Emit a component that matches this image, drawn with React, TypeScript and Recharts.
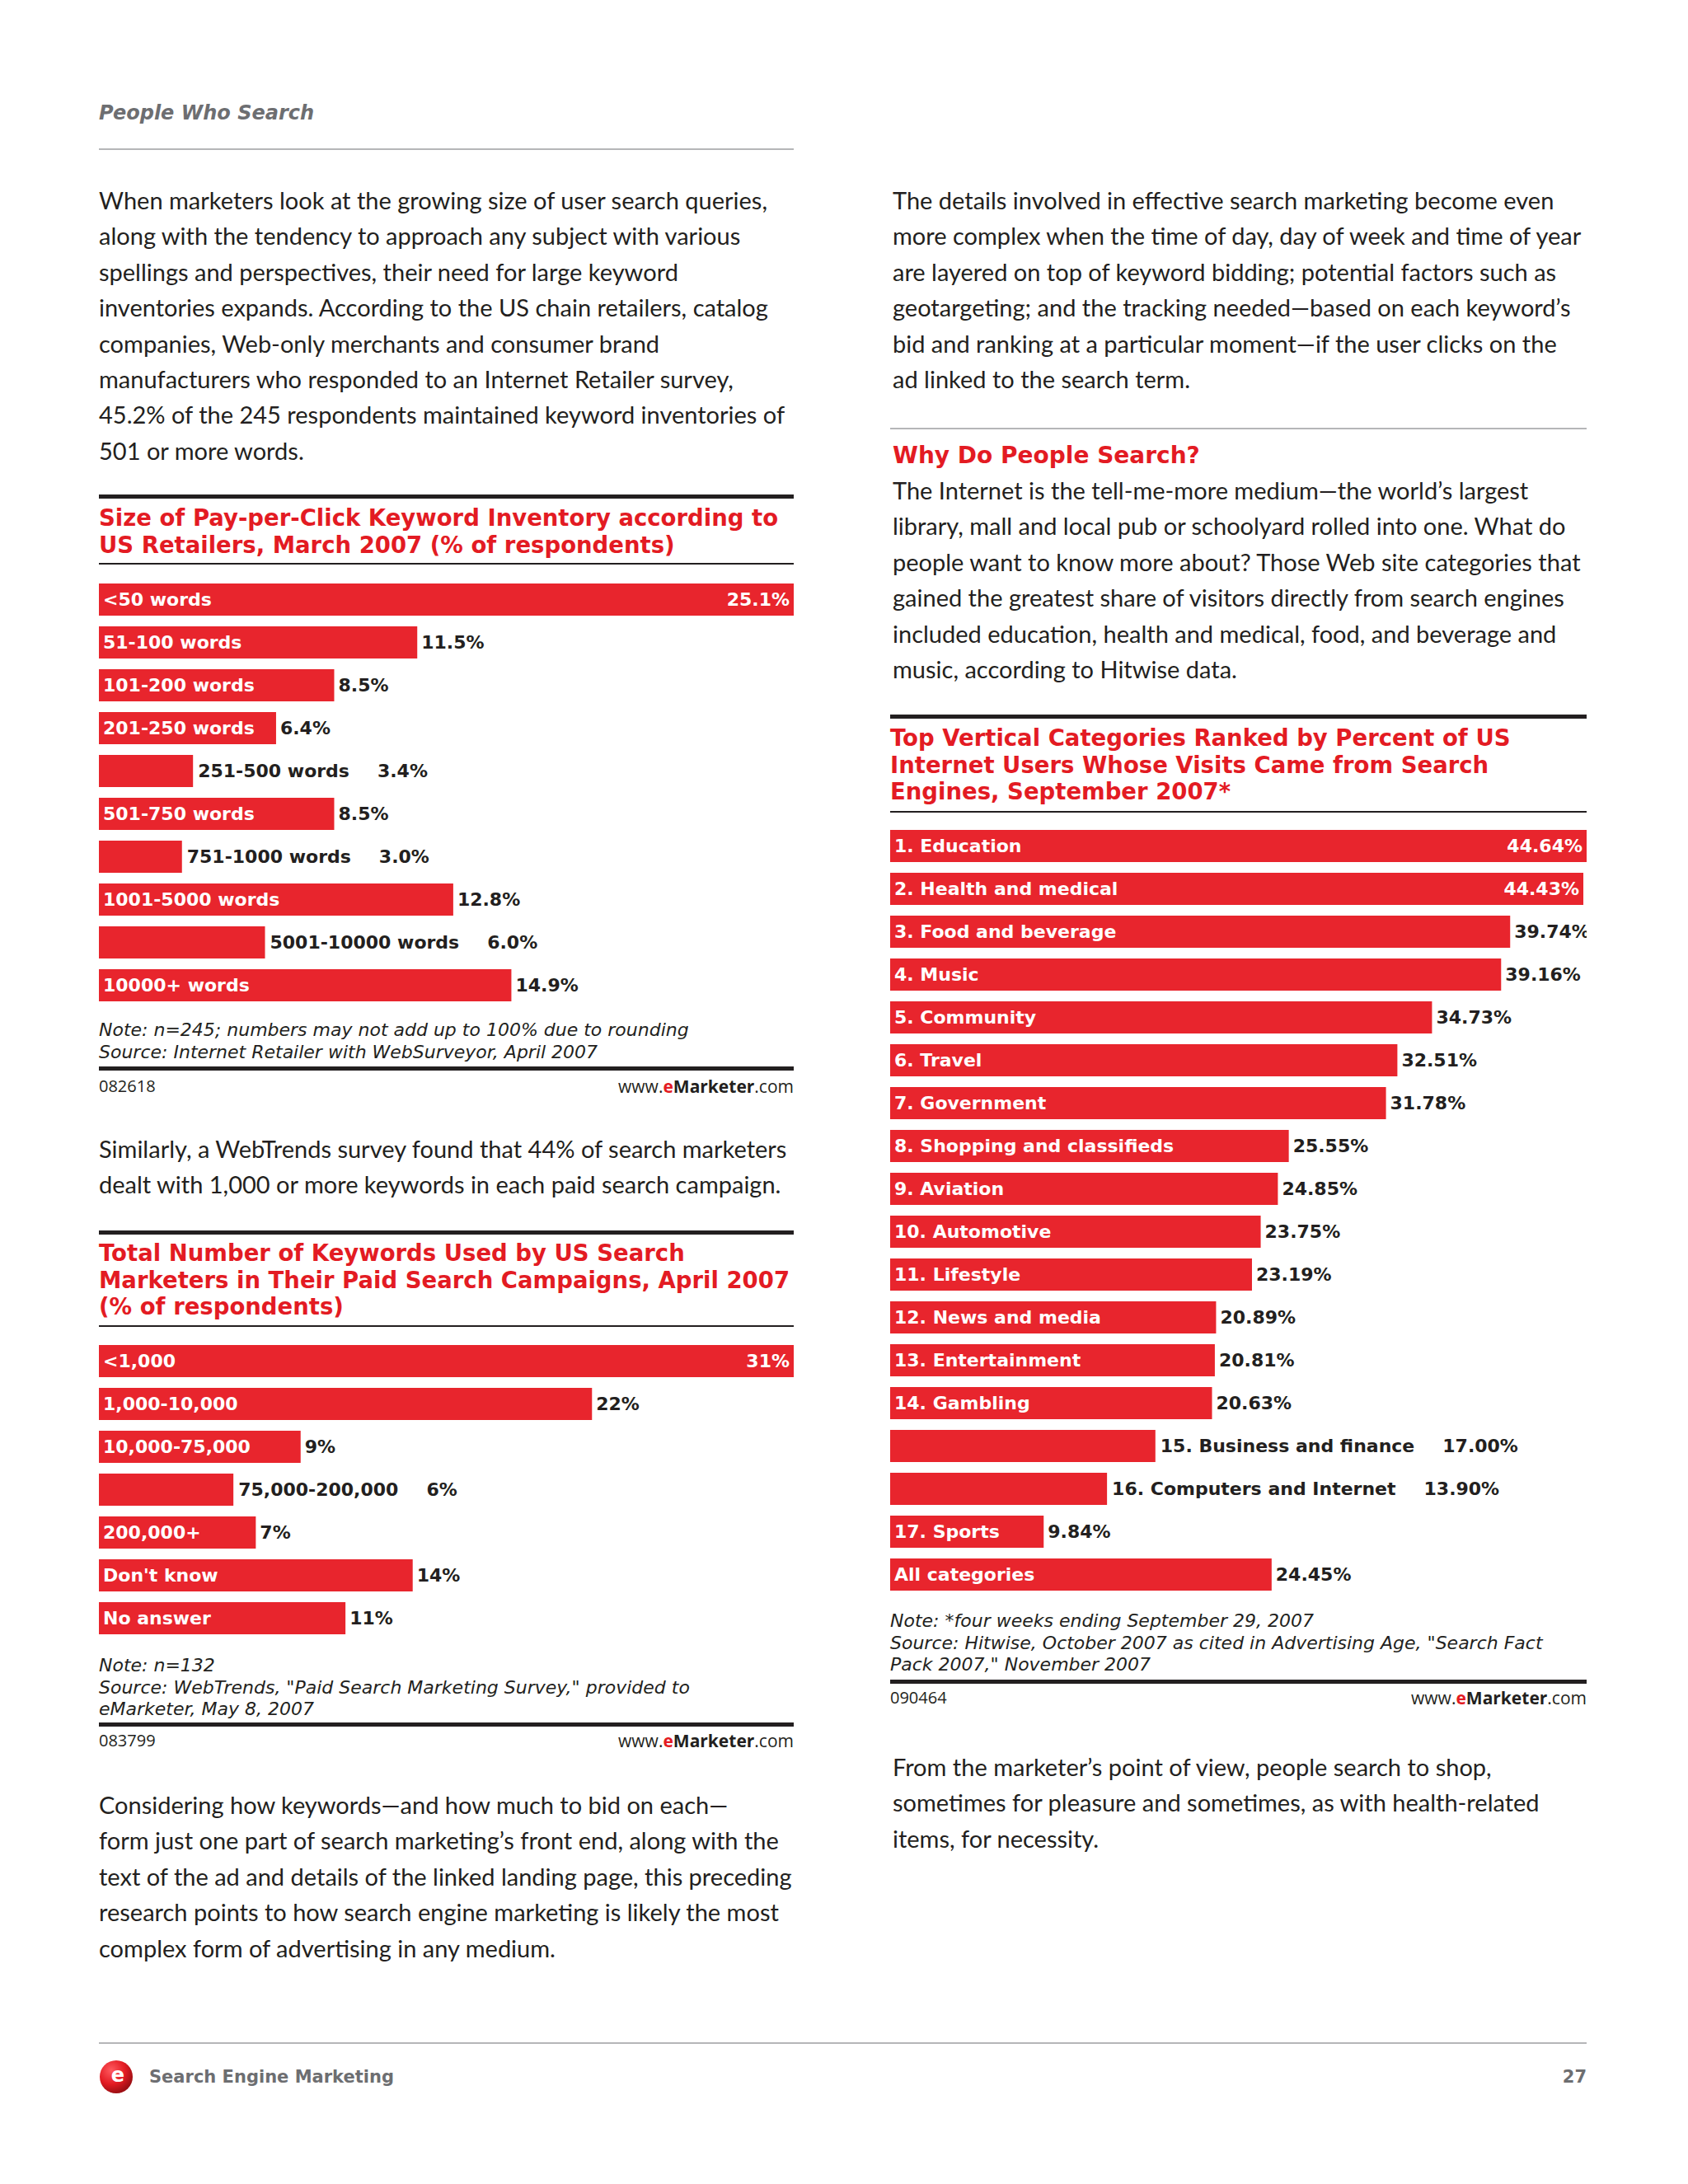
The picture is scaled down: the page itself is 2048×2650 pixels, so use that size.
import React from "react";
import { BarChart, Bar, XAxis, YAxis } from "recharts";

// chart 1: keyword inventory size
const inventoryLabels = ["<50 words", "51-100 words", "101-200 words", "201-250 words", "251-500 words", "501-750 words", "751-1000 words", "1001-5000 words", "5001-10000 words", "10000+ words"];
const inventoryValues = [25.1, 11.5, 8.5, 6.4, 3.4, 8.5, 3.0, 12.8, 6.0, 14.9];

// chart 2: keywords used in paid search campaigns
const keywordLabels = ["<1,000", "1,000-10,000", "10,000-75,000", "75,000-200,000", "200,000+", "Don't know", "No answer"];
const keywordValues = [31, 22, 9, 6, 7, 14, 11];

// chart 3: vertical categories
const categoryLabels = ["1. Education", "2. Health and medical", "3. Food and beverage", "4. Music", "5. Community", "6. Travel", "7. Government", "8. Shopping and classifieds", "9. Aviation", "10. Automotive", "11. Lifestyle", "12. News and media", "13. Entertainment", "14. Gambling", "15. Business and finance", "16. Computers and Internet", "17. Sports", "All categories"];
const categoryValues = [44.64, 44.43, 39.74, 39.16, 34.73, 32.51, 31.78, 25.55, 24.85, 23.75, 23.19, 20.89, 20.81, 20.63, 17.0, 13.9, 9.84, 24.45];

const RED = "#e8252d";
const TITLE_RED = "#e31b23";
const INK = "#231f20";
const GRAY = "#6d6e71";
const ROW = 52;
const BAR_H = 39;
const BOLD = "'DejaVu Sans', Verdana, sans-serif";
const LABEL_SIZE = 22;
const LABEL_FONT = `bold ${LABEL_SIZE}px 'DejaVu Sans', sans-serif`;
const BODY = "Lato, 'Open Sans', sans-serif";
const NOTE = "'DejaVu Sans', sans-serif";
const SMALL = "'Open Sans', Lato, sans-serif";

let ctx: CanvasRenderingContext2D | null = null;
function measure(text: string) {
  if (!ctx) ctx = document.createElement("canvas").getContext("2d");
  if (!ctx) return text.length * 15;
  ctx.font = LABEL_FONT;
  return ctx.measureText(text).width;
}

function BarShape(props: any) {
  const { x, y, width, height, payload, chartWidth, decimals } = props;
  const cy = y + height / 2;
  const label = payload.name;
  const val = payload.value.toFixed(decimals) + "%";
  const lw = measure(label);
  const vw = measure(val);
  const inside = lw + 28 <= width;
  const common = { fontFamily: BOLD, fontWeight: 700, fontSize: LABEL_SIZE, dominantBaseline: "central" as const };
  let labelEl, valueEl;
  if (inside) {
    labelEl = <text x={x + 5} y={cy} fill="#fff" {...common}>{label}</text>;
    if (x + width + 6 + vw > chartWidth + 10) {
      valueEl = <text x={x + width - 5} y={cy} fill="#fff" textAnchor="end" {...common}>{val}</text>;
    } else {
      valueEl = <text x={x + width + 5} y={cy} fill={INK} {...common}>{val}</text>;
    }
  } else {
    labelEl = <text x={x + width + 6} y={cy} fill={INK} {...common}>{label}</text>;
    valueEl = <text x={x + width + 6 + lw + 34} y={cy} fill={INK} {...common}>{val}</text>;
  }
  return (
    <g>
      <rect x={x} y={y} width={width} height={height} fill={RED} />
      {labelEl}
      {valueEl}
    </g>
  );
}

function HBars({ labels, values, decimals, left, top, width }: any) {
  const data = labels.map((name: string, i: number) => ({ name, value: values[i] }));
  const max = Math.max(...values);
  return (
    <div style={{ position: "absolute", left, top }}>
      <BarChart width={width} height={labels.length * ROW} data={data} layout="vertical" margin={{ top: 0, right: 0, bottom: 0, left: 0 }}>
        <XAxis type="number" domain={[0, max]} allowDataOverflow hide />
        <YAxis type="category" dataKey="name" hide width={0} />
        <Bar dataKey="value" fill={RED} barSize={BAR_H} isAnimationActive={false} shape={(p: any) => <BarShape {...p} chartWidth={width} decimals={decimals} />} />
      </BarChart>
    </div>
  );
}

function Line({ x, y, size = 28, lh = 40, children, style }: any) {
  return (
    <div style={{ position: "absolute", left: x, top: y - lh / 2, fontSize: size, lineHeight: lh + "px", whiteSpace: "nowrap", ...style }}>
      {children}
    </div>
  );
}

function Para({ x, y, step = 43.4, lines }: any) {
  return (
    <>
      {lines.map((t: string, i: number) => (
        <Line key={i} x={x} y={y + i * step} size={29} style={{ fontFamily: BODY, fontWeight: 400, color: INK }}>{t}</Line>
      ))}
    </>
  );
}

function Rule({ x, y, w, h, color }: any) {
  return <div style={{ position: "absolute", left: x, top: y - h / 2, width: w, height: h, background: color }} />;
}

function Title({ x, y, lines }: any) {
  return (
    <>
      {lines.map((t: string, i: number) => (
        <Line key={i} x={x} y={y + 1 + i * 32.5} size={27.5} lh={32} style={{ fontFamily: BOLD, fontWeight: 700, color: TITLE_RED }}>{t}</Line>
      ))}
    </>
  );
}

function Notes({ x, y, lines }: any) {
  return (
    <>
      {lines.map((t: string, i: number) => (
        <Line key={i} x={x} y={y + i * 26.5} size={22} lh={26} style={{ fontFamily: NOTE, fontStyle: "italic", color: INK }}>{t}</Line>
      ))}
    </>
  );
}

function Credit({ x, y, w, code }: any) {
  return (
    <>
      <Line x={x} y={y} size={20} lh={24} style={{ fontFamily: SMALL, color: INK }}>{code}</Line>
      <div style={{ position: "absolute", left: x + w - 300, top: y - 12, width: 300, textAlign: "right", fontSize: 21, lineHeight: "24px", fontFamily: SMALL, color: INK }}>
        www.<b style={{ color: TITLE_RED }}>e</b><b>Marketer</b>.com
      </div>
    </>
  );
}

export default function App() {
  const L = 120;
  const R = 1080;
  return (
    <div style={{ position: "absolute", left: 0, top: 0, width: 2048, height: 2650, background: "#fff", overflow: "hidden" }}>
      <style>{`.recharts-surface{overflow:visible}`}</style>
      <Line x={L} y={137} size={24} lh={34} style={{ fontFamily: BOLD, fontWeight: 700, fontStyle: "italic", color: GRAY }}>People Who Search</Line>
      <Rule x={L} y={181} w={843} h={2} color="#b5b6b8" />
      <Para x={L} y={243} lines={[
        "When marketers look at the growing size of user search queries,",
        "along with the tendency to approach any subject with various",
        "spellings and perspectives, their need for large keyword",
        "inventories expands. According to the US chain retailers, catalog",
        "companies, Web-only merchants and consumer brand",
        "manufacturers who responded to an Internet Retailer survey,",
        "45.2% of the 245 respondents maintained keyword inventories of",
        "501 or more words.",
      ]} />

      {/* chart 1 */}
      <Rule x={L} y={602} w={843} h={5} color={INK} />
      <Title x={L} y={627} lines={["Size of Pay-per-Click Keyword Inventory according to", "US Retailers, March 2007 (% of respondents)"]} />
      <Rule x={L} y={684} w={843} h={2} color={INK} />
      <HBars labels={inventoryLabels} values={inventoryValues} decimals={1} left={L} top={727 - ROW / 2} width={843} />
      <Notes x={L} y={1250} lines={["Note: n=245; numbers may not add up to 100% due to rounding", "Source: Internet Retailer with WebSurveyor, April 2007"]} />
      <Rule x={L} y={1296} w={843} h={5} color={INK} />
      <Credit x={L} y={1318} w={843} code="082618" />

      <Para x={L} y={1394} lines={[
        "Similarly, a WebTrends survey found that 44% of search marketers",
        "dealt with 1,000 or more keywords in each paid search campaign.",
      ]} />

      {/* chart 2 */}
      <Rule x={L} y={1495} w={843} h={5} color={INK} />
      <Title x={L} y={1519} lines={["Total Number of Keywords Used by US Search", "Marketers in Their Paid Search Campaigns, April 2007", "(% of respondents)"]} />
      <Rule x={L} y={1609} w={843} h={2} color={INK} />
      <HBars labels={keywordLabels} values={keywordValues} decimals={0} left={L} top={1651 - ROW / 2} width={843} />
      <Notes x={L} y={2021} lines={["Note: n=132", "Source: WebTrends, \"Paid Search Marketing Survey,\" provided to", "eMarketer, May 8, 2007"]} />
      <Rule x={L} y={2092} w={843} h={5} color={INK} />
      <Credit x={L} y={2112} w={843} code="083799" />

      <Para x={L} y={2190} lines={[
        "Considering how keywords\u2014and how much to bid on each\u2014",
        "form just one part of search marketing\u2019s front end, along with the",
        "text of the ad and details of the linked landing page, this preceding",
        "research points to how search engine marketing is likely the most",
        "complex form of advertising in any medium.",
      ]} />

      {/* right column */}
      <Para x={R + 3} y={243} lines={[
        "The details involved in effective search marketing become even",
        "more complex when the time of day, day of week and time of year",
        "are layered on top of keyword bidding; potential factors such as",
        "geotargeting; and the tracking needed\u2014based on each keyword\u2019s",
        "bid and ranking at a particular moment\u2014if the user clicks on the",
        "ad linked to the search term.",
      ]} />
      <Rule x={R} y={520} w={845} h={2} color="#b5b6b8" />
      <Line x={R + 3} y={553} size={28} lh={36} style={{ fontFamily: BOLD, fontWeight: 700, color: TITLE_RED }}>Why Do People Search?</Line>
      <Para x={R + 3} y={595} lines={[
        "The Internet is the tell-me-more medium\u2014the world\u2019s largest",
        "library, mall and local pub or schoolyard rolled into one. What do",
        "people want to know more about? Those Web site categories that",
        "gained the greatest share of visitors directly from search engines",
        "included education, health and medical, food, and beverage and",
        "music, according to Hitwise data.",
      ]} />

      {/* chart 3 */}
      <Rule x={R} y={869} w={845} h={5} color={INK} />
      <Title x={R} y={894} lines={["Top Vertical Categories Ranked by Percent of US", "Internet Users Whose Visits Came from Search", "Engines, September 2007*"]} />
      <Rule x={R} y={985} w={845} h={2} color={INK} />
      <HBars labels={categoryLabels} values={categoryValues} decimals={2} left={R} top={1026 - ROW / 2} width={845} />
      <Notes x={R} y={1967} lines={["Note: *four weeks ending September 29, 2007", "Source: Hitwise, October 2007 as cited in Advertising Age, \"Search Fact", "Pack 2007,\" November 2007"]} />
      <Rule x={R} y={2040} w={845} h={5} color={INK} />
      <Credit x={R} y={2060} w={845} code="090464" />

      <Para x={R + 3} y={2144} lines={[
        "From the marketer\u2019s point of view, people search to shop,",
        "sometimes for pleasure and sometimes, as with health-related",
        "items, for necessity.",
      ]} />

      {/* footer */}
      <Rule x={L} y={2479} w={1805} h={2} color="#b5b6b8" />
      <svg style={{ position: "absolute", left: L, top: 2499 }} width={42} height={42}>
        <defs>
          <radialGradient id="ball" cx="35%" cy="30%" r="70%">
            <stop offset="0%" stopColor="#ff5a5f" />
            <stop offset="60%" stopColor="#e31b23" />
            <stop offset="100%" stopColor="#9e0f14" />
          </radialGradient>
        </defs>
        <circle cx={21} cy={21} r={20} fill="url(#ball)" />
        <text x={23} y={19} fill="#fff" fontFamily={BOLD} fontWeight={700} fontSize={24} textAnchor="middle" dominantBaseline="central">e</text>
      </svg>
      <Line x={181} y={2520} size={21} lh={30} style={{ fontFamily: BOLD, fontWeight: 700, color: GRAY }}>Search Engine Marketing</Line>
      <div style={{ position: "absolute", left: 1825, top: 2505, width: 100, textAlign: "right", fontSize: 21, lineHeight: "30px", fontFamily: BOLD, fontWeight: 700, color: GRAY }}>27</div>
    </div>
  );
}
